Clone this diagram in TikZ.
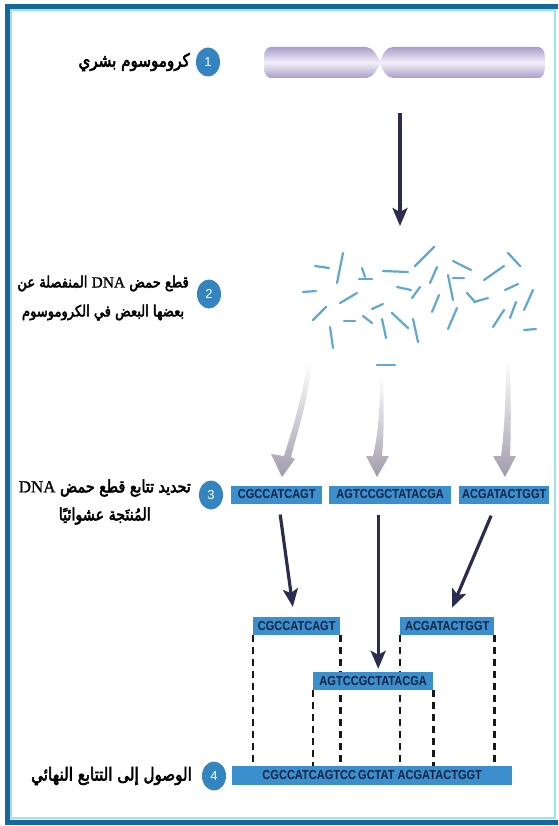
\documentclass[tikz,border=0pt]{standalone}
\usepackage{fontspec}
\usetikzlibrary{arrows.meta,shapes.geometric}
\TeXXeTstate=1
\newfontfamily\arabicfont[Script=Arabic, FakeStretch=0.84, FakeBold=3]{DejaVu Sans}
\newfontfamily\dnafont[FakeBold=1]{Liberation Serif}
\newfontfamily\seqfont[FakeStretch=0.85]{Liberation Sans}
\newfontfamily\numfont{Liberation Sans}

\definecolor{frameblue}{RGB}{22,104,154}
\definecolor{framecyan}{RGB}{160,225,240}
\definecolor{boxblue}{RGB}{60,143,205}
\definecolor{seqtext}{RGB}{20,35,65}
\definecolor{stepblue}{RGB}{52,132,192}
\definecolor{navy}{RGB}{42,44,80}
\definecolor{fragblue}{RGB}{95,168,212}
\definecolor{fadegray}{RGB}{160,155,172}
\definecolor{chromedge}{RGB}{168,158,202}
\definecolor{chromlight}{RGB}{242,240,250}

\tikzset{
  seqbox/.style={fill=boxblue, text=seqtext, font=\seqfont\bfseries\fontsize{13}{13}\selectfont,
    inner sep=0pt, minimum height=18pt, anchor=west},
  steplabel/.style={align=center, anchor=east, inner sep=0pt, text=black},
  numdot/.style={ellipse, fill=stepblue, text=white, font=\numfont\fontsize{13}{13}\selectfont,
    minimum width=24pt, minimum height=29pt, inner sep=0pt},
  navyarrow/.style={draw=navy, line width=3.2pt, -{Stealth[length=18pt,width=15pt,inset=4pt]}},
  dashline/.style={draw=black!90, line width=2.3pt, dash pattern=on 7pt off 5pt},
  frag/.style={draw=fragblue, line width=2.2pt, line cap=round},
  fadearrow/.style={top color=white, bottom color=fadegray, draw=none}
}

\begin{document}
\begin{tikzpicture}[x=1pt,y=-1pt]
\useasboundingbox (0,0) rectangle (558,826);

% page frame
\begin{scope}
  \clip (0,0) rectangle (558,826);
  \draw[frameblue, line width=5pt] (7,7) rectangle (563,822);
  \draw[framecyan, line width=2pt] (10.5,10.5) rectangle (555,818);
\end{scope}

% chromosome
\path[top color=chromedge, bottom color=chromedge, middle color=chromlight]
  (272,47) -- (366,47) .. controls (373,47) and (377,56) .. (380,61)
  .. controls (383,54) and (386,47) .. (393,47) -- (537,47)
  .. controls (544,47) and (545,52) .. (545,62)
  .. controls (545,73) and (544,78) .. (537,78) -- (393,78)
  .. controls (386,78) and (383,70) .. (380,64)
  .. controls (377,69) and (373,78) .. (366,78) -- (272,78)
  .. controls (265,78) and (264,73) .. (264,62)
  .. controls (264,52) and (265,47) .. (272,47) -- cycle;

% chromosome broken into fragments
\coordinate (chromo) at (400,113);
\coordinate (pieces) at (400,226);
\draw[navyarrow] (chromo) -- (pieces);

\foreach \a/\b/\c/\d in {
  315/266/329/268, 343/253/337/283, 362/268/365/277, 359/279/372/279,
  383/271/408/272, 415/266/434/247, 453/261/471/270, 484/280/504/266,
  508/253/520/266, 303/292/316/291, 397/287/411/290, 437/267/430/283,
  448/275/453/300, 453/278/464/278, 412/298/420/287, 340/303/357/293,
  313/320/326/307, 372/309/383/304, 344/321/355/321, 363/316/372/323,
  382/319/386/338, 392/313/408/328, 413/319/418/342, 432/312/439/295,
  448/329/457/308, 467/293/475/302, 474/302/488/298, 505/290/518/284,
  493/327/504/310, 510/318/516/302, 524/310/533/290, 524/330/536/329,
  330/327/333/348, 377/365/395/365}
  \draw[frag] (\a,\b) -- (\c,\d);

% fading arrows from fragments to sequenced pieces
\path[fadearrow] (307,362) .. controls (302,400) and (292,430) .. (284,456)
  -- (271,454) -- (282,477) -- (295,459) -- (291,457)
  .. controls (298,430) and (308,400) .. (312,362) -- cycle;
\path[fadearrow] (380,376) .. controls (380,410) and (378,435) .. (373,456)
  -- (366,456) -- (377,477) -- (389,456) -- (382,456)
  .. controls (384,435) and (384,410) .. (383,376) -- cycle;
\path[fadearrow] (506,360) .. controls (506,400) and (504,435) .. (501,456)
  -- (493,456) -- (505,477) -- (516,456) -- (510,456)
  .. controls (511,435) and (511,400) .. (510,360) -- cycle;

% assembled reads and the final sequence
\node[seqbox, minimum width=87pt] (r1) at (253,626) {CGCCATCAGT};
\node[seqbox, minimum width=94pt] (r3) at (400,626) {ACGATACTGGT};
\node[seqbox, minimum width=280pt, minimum height=19pt] (fin) at (232,775.5)
  {CGCCATCAGTCC\hspace{2pt}GCTAT ACGATACTGGT};

% dashed alignment guides
\draw[dashline] (r1.south west) -- (fin.north -| r1.south west);
\draw[dashline] (r1.south east) -- (fin.north -| r1.south east);
\draw[dashline] (r3.south west) -- (fin.north -| r3.south west);
\draw[dashline] (r3.south east) -- (fin.north -| r3.south east);

\node[seqbox, minimum width=120pt] (m) at (313,681) {AGTCCGCTATACGA};
\draw[dashline] (m.south west) -- (fin.north -| m.south west);
\draw[dashline] (m.south east) -- (fin.north -| m.south east);

% randomly produced sequenced pieces
\node[seqbox, minimum width=91pt] (s1) at (231,494.5) {CGCCATCAGT};
\node[seqbox, minimum width=122pt] (s2) at (329,494.5) {AGTCCGCTATACGA};
\node[seqbox, minimum width=90pt] (s3) at (459,494.5) {ACGATACTGGT};

\draw[navyarrow, shorten <=11pt, shorten >=10pt] ([xshift=2pt]s1.south) -- ([xshift=-2.5pt]r1.north);
\draw[navyarrow, shorten <=11pt, shorten >=3pt] ([xshift=-12pt]s2.south) -- ([xshift=5pt]m.north);
\draw[navyarrow, shorten <=13pt, shorten >=10pt] ([xshift=-8pt]s3.south) -- ([xshift=1pt]r3.north);

% step numbers and captions
\node[numdot] (c1) at (208,62) {1};
\node[numdot] (c2) at (209,294) {2};
\node[numdot] (c3) at (211,495) {3};
\node[numdot] (c4) at (214,776) {4};

\node[steplabel, font=\arabicfont\fontsize{18}{28}\selectfont] (t1) at (190,62)
  {\beginR كروموسوم بشري\endR};
\node[steplabel, font=\arabicfont\fontsize{15.5}{29}\selectfont] (t2) at (189,298)
  {\beginR قطع حمض \beginL{\dnafont DNA}\endL{} المنفصلة عن\endR\\
   \beginR بعضها البعض في الكروموسوم\endR};
\node[steplabel, font=\arabicfont\fontsize{17}{28}\selectfont] (t3) at (191,502)
  {\beginR تحديد تتابع قطع حمض \beginL{\dnafont DNA}\endL\endR\\
   \beginR المُنتَجة عشوائيًا\endR};
\node[steplabel, font=\arabicfont\fontsize{18}{28}\selectfont] (t4) at (192,776)
  {\beginR الوصول إلى التتابع النهائي\endR};
\end{tikzpicture}
\end{document}
